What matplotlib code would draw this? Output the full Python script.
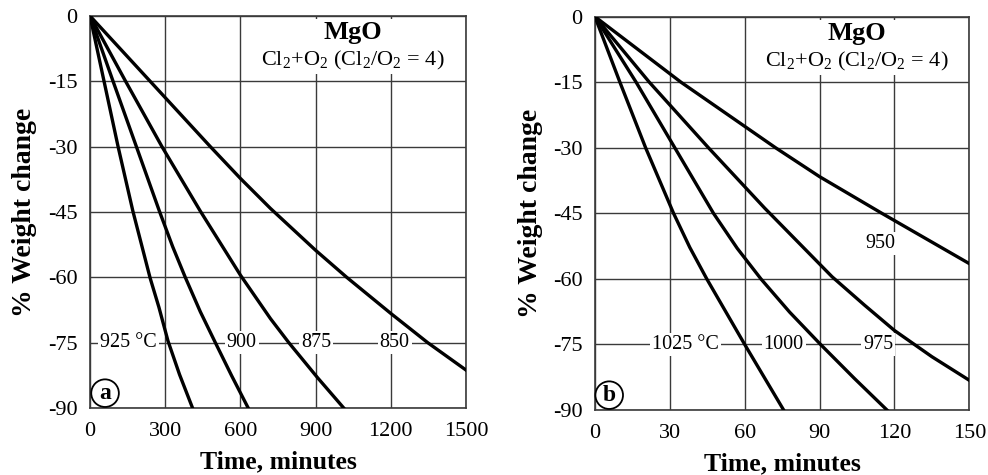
import matplotlib
matplotlib.use("Agg")
import matplotlib.pyplot as plt
from matplotlib.patches import Rectangle

plt.rcParams['font.family'] = ['Liberation Serif', 'DejaVu Serif']
plt.rcParams['mathtext.fontset'] = 'custom'
plt.rcParams['mathtext.rm'] = 'Liberation Serif'
plt.rcParams['axes.unicode_minus'] = False

# panel a: time in minutes, % weight change
t850 = [0, 240, 480, 600, 720, 900, 1024, 1200, 1347, 1500]
w850 = [0, -15, -30, -37.3, -44.2, -53.8, -60, -68.3, -75, -81.3]
t875 = [0, 142, 287, 440, 600, 720, 793, 907, 1012]
w875 = [0, -15, -30, -44.8, -59.5, -69.5, -75, -83, -90]
t900 = [0, 92, 185, 278, 330, 380, 440, 500, 565, 631]
w900 = [0, -15, -30, -45, -53, -60, -67.9, -75, -82.6, -90]
t925 = [0, 56, 112, 171, 240, 275, 311, 357, 409]
w925 = [0, -15, -30, -44.8, -60.2, -66.9, -74.6, -82.3, -90]

# panel b
t950 = [0, 34.5, 72.4, 90, 115, 150]
w950 = [0, -15, -30, -36.6, -45, -56.5]
t975 = [0, 21.8, 45.5, 68, 95, 108, 120, 135, 150]
w975 = [0, -15, -30, -43.8, -59.5, -66, -71.8, -77.8, -83.2]
t1000 = [0, 16.5, 32, 47.5, 57, 66.5, 78, 90.4, 104, 117]
w1000 = [0, -15, -30, -45, -53, -60, -67.6, -75, -82.8, -90]
t1025 = [0, 10, 20.3, 31.5, 38, 44.8, 60, 75.6]
w1025 = [0, -15, -30, -45, -52.8, -60, -75, -90]

yticks = [0, -15, -30, -45, -60, -75, -90]
xticks_a = [0, 300, 600, 900, 1200, 1500]
xticks_b = [0, 30, 60, 90, 120, 150]

labels_a = [('925 °C', 153), ('900', 605), ('875', 903), ('850', 1215)]
labels_b = [('1025 °C', 36.3), ('1000', 75.6), ('975', 113.5)]

fig = plt.figure(figsize=(9.88, 4.75), dpi=100)
ax1 = fig.add_axes([0.0911, 0.1411, 0.3806, 0.8253])
ax2 = fig.add_axes([0.6022, 0.1368, 0.3789, 0.8280])

grid_col = '#3a3a3a'


def setup(ax, xticks, box_x, text_x, letter, letter_x):
    ax.set_xlim(xticks[0], xticks[-1])
    ax.set_ylim(-90, 0)
    ax.set_xticks(xticks)
    ax.set_yticks(yticks)
    ax.set_xticklabels([str(v) for v in xticks])
    ax.set_yticklabels([str(v) for v in yticks])
    ax.tick_params(length=0, labelsize=16, colors='black')
    ax.tick_params(axis='x', pad=10)
    ax.tick_params(axis='y', pad=9)
    ax.grid(True, color=grid_col, lw=1.0, zorder=1)
    ax.set_axisbelow(True)
    for s in ax.spines.values():
        s.set_color(grid_col)
        s.set_linewidth(1.2)
    ax.set_xlabel('Time, minutes', fontsize=18.5, fontweight='bold')
    ax.set_ylabel('% Weight change', fontsize=20, fontweight='bold')
    ax.xaxis.set_label_coords(0.5, -0.108)
    ax.yaxis.set_label_coords(-0.14, 0.5)
    # white block behind the title text
    ax.add_patch(Rectangle((box_x[0], -13.4), box_x[1] - box_x[0], 12.6,
                           fc='white', ec='none', zorder=1.5))
    ax.text(text_x, -3.9, 'MgO', ha='center', va='center', fontsize=19,
            fontweight='bold', zorder=2)
    ax.text(text_x, -10.2, 'Cl$_2$+O$_2$ (Cl$_2$/O$_2$ = 4)', ha='center',
            va='center', fontsize=16, zorder=2)
    ax.text(letter_x, -86.6, letter, ha='center', va='center', fontsize=17,
            fontweight='bold', zorder=4,
            bbox=dict(boxstyle='circle,pad=0.14', fc='white', ec='black', lw=1.3))


setup(ax1, xticks_a, (670, 1430), 1050, 'a', 60)
setup(ax2, xticks_b, (67, 144), 105, 'b', 5.7)

for t, w in [(t850, w850), (t875, w875), (t900, w900), (t925, w925)]:
    ax1.plot(t, w, color='black', lw=2.4, zorder=3)
for t, w in [(t950, w950), (t975, w975), (t1000, w1000), (t1025, w1025)]:
    ax2.plot(t, w, color='black', lw=2.4, zorder=3)

lab_box = dict(fc='white', ec='none', pad=1.5)
for txt, x in labels_a:
    ax1.text(x, -75, txt, ha='center', va='center', fontsize=14.5, zorder=2,
             bbox=lab_box)
for txt, x in labels_b:
    ax2.text(x, -75, txt, ha='center', va='center', fontsize=14.5, zorder=2,
             bbox=lab_box)
ax2.text(114.5, -51.8, '950', ha='center', va='center', fontsize=14.5, zorder=2,
         bbox=lab_box)

fig.savefig('out.png', dpi=100)
